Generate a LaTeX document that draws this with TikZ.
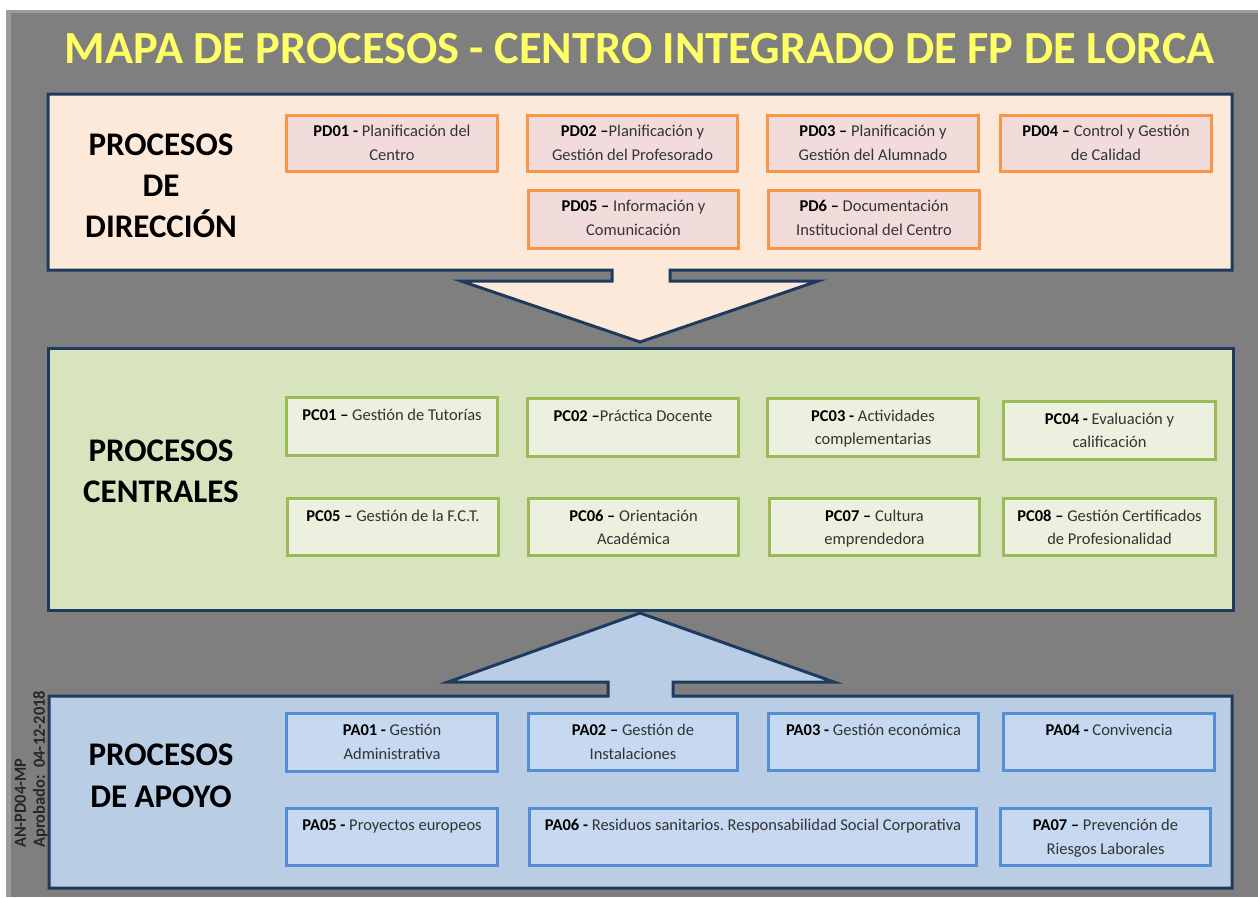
\documentclass[tikz,border=0pt]{standalone}
\usepackage{fontspec}
\setmainfont{Carlito}
\usepackage{graphicx}
\usetikzlibrary{fit}
\frenchspacing
\definecolor{bggray}{HTML}{7F7F7F}
\definecolor{bgedge}{HTML}{9C9C9C}
\definecolor{navy}{HTML}{1F3A5F}
\definecolor{titleyel}{HTML}{FFFF66}
\definecolor{dirfill}{HTML}{FDE9D9}
\definecolor{pdfill}{HTML}{F2DCDB}
\definecolor{pdorange}{HTML}{F79646}
\definecolor{cenfill}{HTML}{D7E4BD}
\definecolor{pcfill}{HTML}{EBF1DE}
\definecolor{pcgreen}{HTML}{9BBB59}
\definecolor{apofill}{HTML}{B9CDE5}
\definecolor{pafill}{HTML}{C6D9F1}
\definecolor{pablue}{HTML}{558ED5}
\definecolor{txtgray}{HTML}{333333}
\definecolor{sidegray}{HTML}{262626}
\tikzset{
  outer/.style={draw=navy, line width=3pt, line join=miter},
  pdbox/.style={draw=pdorange, fill=pdfill, line width=3pt, inner sep=-1.5pt, outer sep=0pt},
  pcbox/.style={draw=pcgreen, fill=pcfill, line width=3pt, inner sep=-1.5pt, outer sep=0pt},
  pabox/.style={draw=pablue, fill=pafill, line width=3pt, inner sep=-1.5pt, outer sep=0pt},
  btxt/.style={anchor=base, text width=205pt, align=flush center, inner sep=0pt,
    font=\fontsize{16.5}{23.5}\selectfont, text=txtgray},
  biglbl/.style={anchor=base, text width=200pt, align=flush center, inner sep=0pt,
    font=\fontsize{33}{41}\selectfont\bfseries, text=black},
  sidetxt/.style={rotate=90, anchor=base west, inner sep=0pt,
    font=\fontsize{17}{20}\selectfont\bfseries, text=sidegray}
}
\newcommand{\cod}[1]{\textbf{\color{black}#1}}
\begin{document}
\begin{tikzpicture}[x=1pt,y=-1pt]
\useasboundingbox (0,0) rectangle (1258,897);
\fill[white] (0,0) rectangle (1258,897);
\fill[bgedge] (6,10) rectangle (1258,897);
\fill[bggray] (11,13) rectangle (1258,897);

% title
\node[anchor=base, inner sep=0pt, text=titleyel, font=\fontsize{46}{50}\selectfont\bfseries]
  (title) at (640,63) {\resizebox{1150pt}{\height}{MAPA DE PROCESOS - CENTRO INTEGRADO DE FP DE LORCA}};

% central block
\draw[outer, fill=cenfill] (48,348) rectangle (1233,610);

% direccion block with down arrow
\draw[outer, fill=dirfill] (48,94) -- (1232,94) -- (1232,270) -- (670,270) -- (670,281)
  -- (818,281) -- (640,342) -- (461,281) -- (612,281) -- (612,270) -- (48,270) -- cycle;

% apoyo block with up arrow
\draw[outer, fill=apofill] (49,696) -- (608,696) -- (608,682) -- (448,682) -- (640,613)
  -- (834,682) -- (673,682) -- (673,696) -- (1232,696) -- (1232,888) -- (49,888) -- cycle;

% big labels
\node[biglbl] (ldir) at (161,155) {PROCESOS\\DE\\DIRECCIÓN};
\node[biglbl, font=\fontsize{33}{40.3}\selectfont\bfseries] (lcen) at (161,461.7) {PROCESOS\\CENTRALES};
\node[biglbl, font=\fontsize{33}{42}\selectfont\bfseries] (lapo) at (161,765.7) {PROCESOS\\DE APOYO};

% side text
\node[sidetxt] (side1) at (26,848) {\resizebox{89pt}{\height}{AN-PD04-MP}};
\node[sidetxt] (side2) at (45,848) {\resizebox{157pt}{\height}{Aprobado:\ \ 04-12-2018}};

% PD boxes
\node[pdbox, fit={(285,114) (499,173)}] (pd01) {};
\node[pdbox, fit={(526,114) (739,173)}] (pd02) {};
\node[pdbox, fit={(766,114) (980,173)}] (pd03) {};
\node[pdbox, fit={(999,114) (1213,173)}] (pd04) {};
\node[pdbox, fit={(527,189) (740,250)}] (pd05) {};
\node[pdbox, fit={(767,189) (981,250)}] (pd06) {};
\node[btxt] (pd01t) at ([yshift=-21pt]pd01.north) {\cod{PD01 -} Planificación del\\Centro};
\node[btxt] (pd02t) at ([yshift=-21pt]pd02.north) {\cod{PD02 –}Planificación y\\Gestión del Profesorado};
\node[btxt] (pd03t) at ([yshift=-21pt]pd03.north) {\cod{PD03 –} Planificación y\\Gestión del Alumnado};
\node[btxt] (pd04t) at ([yshift=-21pt]pd04.north) {\cod{PD04 –} Control y Gestión\\de Calidad};
\node[btxt] (pd05t) at ([yshift=-21pt]pd05.north) {\cod{PD05 –} Información y\\Comunicación};
\node[btxt] (pd06t) at ([yshift=-21pt]pd06.north) {\cod{PD6 –} Documentación\\Institucional del Centro};

% PC boxes
\node[pcbox, fit={(285,396) (499,457)}] (pc01) {};
\node[pcbox, fit={(526,397) (740,458)}] (pc02) {};
\node[pcbox, fit={(766,397) (980,458)}] (pc03) {};
\node[pcbox, fit={(1002,400) (1217,461)}] (pc04) {};
\node[pcbox, fit={(286,497) (500,557)}] (pc05) {};
\node[pcbox, fit={(527,497) (740,557)}] (pc06) {};
\node[pcbox, fit={(768,497) (981,557)}] (pc07) {};
\node[pcbox, fit={(1002,497) (1217,557)}] (pc08) {};
\node[btxt] (pc01t) at ([yshift=-22.5pt]pc01.north) {\cod{PC01 –} Gestión de Tutorías};
\node[btxt] (pc02t) at ([yshift=-22.5pt]pc02.north) {\cod{PC02 –}Práctica Docente};
\node[btxt] (pc03t) at ([yshift=-22.5pt]pc03.north) {\cod{PC03 -} Actividades\\complementarias};
\node[btxt] (pc04t) at ([yshift=-22.5pt]pc04.north) {\cod{PC04 -} Evaluación y\\calificación};
\node[btxt] (pc05t) at ([yshift=-22.5pt]pc05.north) {\cod{PC05 –} Gestión de la F.C.T.};
\node[btxt] (pc06t) at ([yshift=-22.5pt]pc06.north) {\cod{PC06 –} Orientación\\Académica};
\node[btxt] (pc07t) at ([yshift=-22.5pt]pc07.north) {\cod{PC07 –} Cultura\\emprendedora};
\node[btxt] (pc08t) at ([yshift=-22.5pt]pc08.north) {\cod{PC08 –} Gestión Certificados\\de Profesionalidad};

% PA boxes
\node[pabox, fit={(285,712) (499,773)}] (pa01) {};
\node[pabox, fit={(527,712) (739,772)}] (pa02) {};
\node[pabox, fit={(767,712) (980,772)}] (pa03) {};
\node[pabox, fit={(1002,712) (1216,772)}] (pa04) {};
\node[pabox, fit={(285,807) (499,867)}] (pa05) {};
\node[pabox, fit={(528,807) (978,867)}] (pa06) {};
\node[pabox, fit={(999,807) (1212,867)}] (pa07) {};
\node[btxt] (pa01t) at ([yshift=-22pt]pa01.north) {\cod{PA01 -} Gestión\\Administrativa};
\node[btxt] (pa02t) at ([yshift=-22pt]pa02.north) {\cod{PA02 –} Gestión de\\Instalaciones};
\node[btxt] (pa03t) at ([yshift=-22pt]pa03.north) {\cod{PA03 -} Gestión económica};
\node[btxt] (pa04t) at ([yshift=-22pt]pa04.north) {\cod{PA04 -} Convivencia};
\node[btxt] (pa05t) at ([yshift=-22pt]pa05.north) {\cod{PA05 -} Proyectos europeos};
\node[btxt, text width=440pt] (pa06t) at ([yshift=-22pt]pa06.north) {\cod{PA06 -} Residuos sanitarios. Responsabilidad Social Corporativa};
\node[btxt] (pa07t) at ([yshift=-22pt]pa07.north) {\cod{PA07 –} Prevención de\\Riesgos Laborales};
\end{tikzpicture}
\end{document}
